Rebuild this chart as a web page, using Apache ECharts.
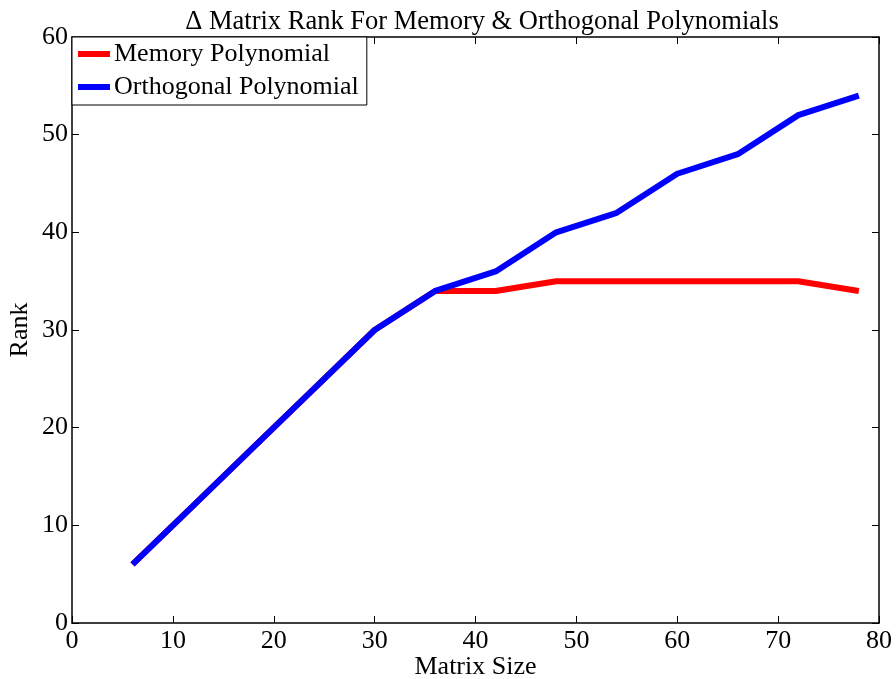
<!DOCTYPE html>
<html>
<head>
<meta charset="utf-8">
<script src="https://cdn.jsdelivr.net/npm/echarts@6/dist/echarts.min.js"></script>
<style>
  html, body { margin: 0; padding: 0; background: #fff; }
  #chart { width: 896px; height: 679px; }
</style>
</head>
<body>
<div id="chart"></div>
<script>
// Matrix sizes tested and the resulting rank for each polynomial basis
const matrixSize = [6, 12, 18, 24, 30, 36, 42, 48, 54, 60, 66, 72, 78];
const memoryRank = [6, 12, 18, 24, 30, 34, 34, 35, 35, 35, 35, 35, 34];
const orthogonalRank = [6, 12, 18, 24, 30, 34, 36, 40, 42, 46, 48, 52, 54];
const xTicks = [0, 10, 20, 30, 40, 50, 60, 70, 80];
const yTicks = [0, 10, 20, 30, 40, 50, 60];

const FONT = '"Liberation Serif", "Times New Roman", serif';
const FS = 26;

const pairs = (xs, ys) => xs.map((x, i) => [x, ys[i]]);

const chart = echarts.init(document.getElementById('chart'), null, { renderer: 'canvas' });

const tickStyle = { show: true, inside: true, length: 7, lineStyle: { color: '#000', width: 1 } };
const lineStyle = { show: true, onZero: false, lineStyle: { color: '#000', width: 1.5 } };
const labelStyle = { fontFamily: FONT, fontSize: FS, color: '#000', margin: 5 };
const nameStyle = { fontFamily: FONT, fontSize: FS, color: '#000' };

chart.setOption({
  animation: false,
  backgroundColor: '#fff',
  title: {
    text: '\u0394 Matrix Rank For Memory & Orthogonal Polynomials',
    left: 477, textAlign: 'center', top: 4,
    textStyle: { fontFamily: FONT, fontSize: 26.5, fontWeight: 'normal', color: '#000' }
  },
  legend: {
    orient: 'vertical',
    left: 72, top: 37,
    backgroundColor: '#fff',
    borderColor: '#000', borderWidth: 1,
    padding: [4, 8, 5, 6],
    itemWidth: 32, itemHeight: 6, itemGap: 7,
    icon: 'rect',
    textStyle: { fontFamily: FONT, fontSize: FS, color: '#000', padding: [0, 0, 0, -1] },
    data: ['Memory Polynomial', 'Orthogonal Polynomial']
  },
  grid: { left: 72, right: 17, top: 37, bottom: 56, containLabel: false, outerBoundsMode: 'none' },
  xAxis: [{
    type: 'value', min: xTicks[0], max: xTicks[xTicks.length - 1], interval: 10,
    name: 'Matrix Size', nameLocation: 'middle', nameGap: 31, nameMoveOverlap: false,
    nameTextStyle: nameStyle,
    axisLine: lineStyle, axisTick: tickStyle, splitLine: { show: false },
    axisLabel: labelStyle
  }, {
    type: 'value', position: 'top', min: xTicks[0], max: xTicks[xTicks.length - 1], interval: 10,
    axisLine: lineStyle, axisTick: tickStyle, splitLine: { show: false },
    axisLabel: { show: false }
  }],
  yAxis: [{
    type: 'value', min: yTicks[0], max: yTicks[yTicks.length - 1], interval: 10,
    name: 'Rank', nameLocation: 'middle', nameGap: 39, nameMoveOverlap: false,
    nameTextStyle: nameStyle,
    axisLine: lineStyle, axisTick: tickStyle, splitLine: { show: false },
    axisLabel: { fontFamily: FONT, fontSize: FS, color: '#000', margin: 4 }
  }, {
    type: 'value', position: 'right', min: yTicks[0], max: yTicks[yTicks.length - 1], interval: 10,
    axisLine: lineStyle, axisTick: tickStyle, splitLine: { show: false },
    axisLabel: { show: false }
  }],
  series: [{
    name: 'Memory Polynomial', type: 'line',
    data: pairs(matrixSize, memoryRank),
    showSymbol: false, symbol: 'none',
    color: '#ff0000',
    lineStyle: { color: '#ff0000', width: 6 }
  }, {
    name: 'Orthogonal Polynomial', type: 'line',
    data: pairs(matrixSize, orthogonalRank),
    showSymbol: false, symbol: 'none',
    color: '#0000ff',
    lineStyle: { color: '#0000ff', width: 6 }
  }]
});
</script>
</body>
</html>
